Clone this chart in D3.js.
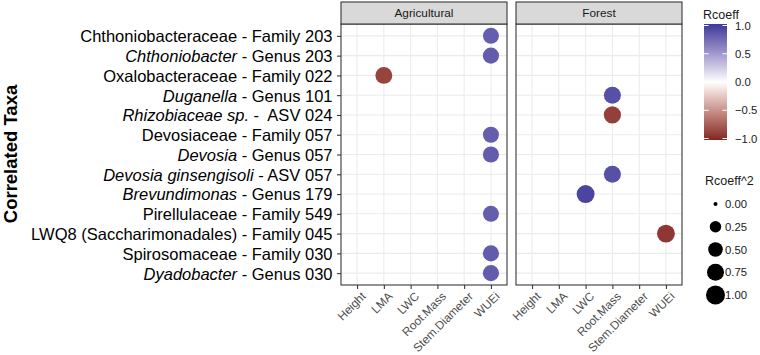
<!DOCTYPE html>
<html>
<head>
<meta charset="utf-8">
<script src="https://cdn.jsdelivr.net/npm/d3@7"></script>
<style>
  html, body { margin: 0; padding: 0; background: #fff; }
  svg { display: block; font-family: "Liberation Sans", Arial, Helvetica, sans-serif; }
</style>
</head>
<body>
<svg id="chart" width="760" height="355"></svg>
<script>
// ---- data ----
const facets = ["Agricultural", "Forest"];
const traits = ["Height", "LMA", "LWC", "Root.Mass", "Stem.Diameter", "WUEi"];
// taxon labels: italic part + regular part
const taxaItalic = ["", "Chthoniobacter", "", "Duganella", "Rhizobiaceae sp.", "", "Devosia",
  "Devosia ginsengisoli", "Brevundimonas", "", "", "", "Dyadobacter"];
const taxaRegular = ["Chthoniobacteraceae - Family 203", " - Genus 203", "Oxalobacteraceae - Family 022",
  " - Genus 101", " -  ASV 024", "Devosiaceae - Family 057", " - Genus 057", " - ASV 057",
  " - Genus 179", "Pirellulaceae - Family 549", "LWQ8 (Saccharimonadales) - Family 045",
  "Spirosomaceae - Family 030", " - Genus 030"];
const taxa = taxaItalic.map((d, i) => d + taxaRegular[i]);

// points
const pointFacet = ["Agricultural", "Agricultural", "Agricultural", "Agricultural", "Agricultural",
  "Agricultural", "Agricultural", "Agricultural",
  "Forest", "Forest", "Forest", "Forest", "Forest"];
const pointTaxon = [0, 1, 2, 5, 6, 9, 11, 12, 3, 4, 7, 8, 10];
const pointTrait = ["WUEi", "WUEi", "LMA", "WUEi", "WUEi", "WUEi", "WUEi", "WUEi",
  "Root.Mass", "Root.Mass", "Root.Mass", "LWC", "WUEi"];
const pointR = [0.80, 0.81, -0.86, 0.80, 0.81, 0.80, 0.81, 0.81,
  0.87, -0.88, 0.87, 0.93, -0.92];

const colorTicks = [1.0, 0.5, 0.0, -0.5, -1.0];
const sizeTicks = [0.00, 0.25, 0.50, 0.75, 1.00];

// ---- layout ----
const svg = d3.select("#chart");
const panelTop = 24, panelBottom = 285;
const panelX = { "Agricultural": 341, "Forest": 516 };
const panelW = 166;
const stripTop = 2;

const x = d3.scalePoint().domain(traits).range([0, panelW]).padding(0.6);
const y = d3.scalePoint().domain(d3.range(taxa.length)).range([panelTop, panelBottom]).padding(0.6);

const lowC = "#832424", midC = "#ffffff", highC = "#3A3A98";
function colorOf(v) {
  return v < 0 ? d3.interpolateLab(midC, lowC)(-v) : d3.interpolateLab(midC, highC)(v);
}
// area scale: r = r0 + (r1 - r0) * sqrt(R^2)
const size = d3.scaleSqrt().domain([0, 1]).range([2, 9.5]);

facets.forEach(f => {
  const g = svg.append("g").attr("transform", `translate(${panelX[f]},0)`);
  g.append("rect").attr("x", 0).attr("y", panelTop).attr("width", panelW).attr("height", panelBottom - panelTop)
    .attr("fill", "#fff");
  g.selectAll("line.gx").data(traits).join("line").attr("class", "gx")
    .attr("x1", d => x(d)).attr("x2", d => x(d)).attr("y1", panelTop).attr("y2", panelBottom)
    .attr("stroke", "#EBEBEB").attr("stroke-width", 1.07);
  g.selectAll("line.gy").data(d3.range(taxa.length)).join("line").attr("class", "gy")
    .attr("x1", 0).attr("x2", panelW).attr("y1", d => y(d)).attr("y2", d => y(d))
    .attr("stroke", "#EBEBEB").attr("stroke-width", 1.07);
  const idx = d3.range(pointR.length).filter(i => pointFacet[i] === f);
  g.selectAll("circle.pt").data(idx).join("circle").attr("class", "pt")
    .attr("cx", i => x(pointTrait[i])).attr("cy", i => y(pointTaxon[i]))
    .attr("r", i => size(pointR[i] * pointR[i]))
    .attr("fill", i => colorOf(pointR[i]));
  g.append("rect").attr("x", 0).attr("y", panelTop).attr("width", panelW).attr("height", panelBottom - panelTop)
    .attr("fill", "none").attr("stroke", "#333").attr("stroke-width", 1.07);
  g.append("rect").attr("x", 0).attr("y", stripTop).attr("width", panelW).attr("height", panelTop - stripTop)
    .attr("fill", "#D9D9D9").attr("stroke", "#333").attr("stroke-width", 1.07);
  g.append("text").attr("x", panelW / 2).attr("y", (stripTop + panelTop) / 2).attr("dy", "0.36em")
    .attr("text-anchor", "middle").attr("font-size", "11.8px").attr("fill", "#1a1a1a").text(f);
  const ax = g.append("g").attr("transform", `translate(0,${panelBottom})`)
    .call(d3.axisBottom(x).tickSize(4).tickSizeOuter(0));
  ax.select(".domain").remove();
  ax.selectAll(".tick line").attr("stroke", "#333").attr("stroke-width", 1.07);
  ax.selectAll(".tick text")
    .attr("font-size", "11.8px").attr("fill", "#4d4d4d").attr("font-family", null)
    .attr("text-anchor", "end").attr("y", 0).attr("dy", "0.72em")
    .attr("transform", "translate(3,6) rotate(-45)");
});

// y axis (left panel only)
const ay = svg.append("g").attr("transform", `translate(${panelX["Agricultural"]},0)`)
  .call(d3.axisLeft(y).tickSize(4).tickSizeOuter(0).tickFormat(() => ""));
ay.select(".domain").remove();
ay.selectAll(".tick line").attr("stroke", "#333").attr("stroke-width", 1.07);
ay.selectAll(".tick text").each(function(i) {
  const t = d3.select(this);
  t.attr("font-size", "16.5px").attr("fill", "#000").attr("font-family", null)
    .attr("x", -8.5).attr("dy", "0.36em").attr("text-anchor", "end").style("white-space", "pre");
  if (taxaItalic[i]) t.append("tspan").attr("font-style", "italic").text(taxaItalic[i]);
  t.append("tspan").text(taxaRegular[i]);
});

// y title
svg.append("text").attr("transform", "translate(16.5,154) rotate(-90)")
  .attr("text-anchor", "middle").attr("font-size", "18.5px").attr("font-weight", "bold")
  .attr("fill", "#000").text("Correlated Taxa");

// ---- colour legend ----
const cb = { x: 704, y: 24, w: 23, h: 116 };
const grad = svg.append("defs").append("linearGradient").attr("id", "cgrad")
  .attr("x1", 0).attr("x2", 0).attr("y1", 1).attr("y2", 0);
d3.range(0, 1.0001, 0.02).forEach(t => {
  grad.append("stop").attr("offset", t).attr("stop-color", colorOf(-1 + 2 * t));
});
svg.append("text").attr("x", 703).attr("y", 19).attr("font-size", "12.5px").attr("fill", "#1a1a1a").text("Rcoeff");
svg.append("rect").attr("x", cb.x).attr("y", cb.y).attr("width", cb.w).attr("height", cb.h).attr("fill", "url(#cgrad)");
const cy = d3.scaleLinear().domain([-1, 1]).range([cb.y + cb.h - 1.5, cb.y + 1.5]);
colorTicks.forEach(v => {
  svg.append("line").attr("x1", cb.x).attr("x2", cb.x + 4.6).attr("y1", cy(v)).attr("y2", cy(v))
    .attr("stroke", "#fff").attr("stroke-width", 1);
  svg.append("line").attr("x1", cb.x + cb.w - 4.6).attr("x2", cb.x + cb.w).attr("y1", cy(v)).attr("y2", cy(v))
    .attr("stroke", "#fff").attr("stroke-width", 1);
  svg.append("text").attr("x", 735).attr("y", cy(v)).attr("dy", "0.36em")
    .attr("font-size", "11.3px").attr("fill", "#1a1a1a").text(d3.format(".1f")(v));
});

// ---- size legend ----
svg.append("text").attr("x", 705).attr("y", 185).attr("font-size", "12.5px").attr("fill", "#1a1a1a").text("Rcoeff^2");
const sy = d3.scalePoint().domain(sizeTicks).range([204, 295]);
sizeTicks.forEach(v => {
  svg.append("circle").attr("cx", 715.5).attr("cy", sy(v)).attr("r", size(v)).attr("fill", "#000");
  svg.append("text").attr("x", 725).attr("y", sy(v)).attr("dy", "0.36em")
    .attr("font-size", "11.3px").attr("fill", "#1a1a1a").text(d3.format(".2f")(v));
});
</script>
</body>
</html>
